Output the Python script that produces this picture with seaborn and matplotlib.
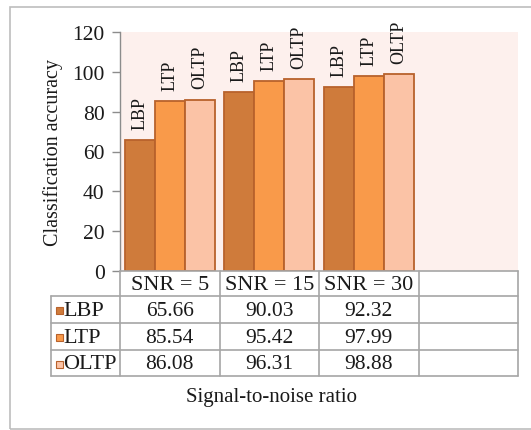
import matplotlib
matplotlib.use("Agg")
import matplotlib.pyplot as plt
from matplotlib.lines import Line2D
from matplotlib.patches import Rectangle
import matplotlib.transforms as mtransforms
import pandas as pd
import seaborn as sns

# ---- data ----
categories = ["SNR = 5", "SNR = 15", "SNR = 30"]
methods = ["LBP", "LTP", "OLTP"]
lbp = [65.66, 90.03, 92.32]
ltp = [85.54, 95.42, 97.99]
oltp = [86.08, 96.31, 98.88]
value_labels = [["65.66", "90.03", "92.32"],
                ["85.54", "95.42", "97.99"],
                ["86.08", "96.31", "98.88"]]
yticks = [0, 20, 40, 60, 80, 100, 120]

colors = {"LBP": "#cf7b3b", "LTP": "#f99a4a", "OLTP": "#fbc3a6"}
edge = "#b8622c"
grid_gray = "#a6a6a6"

df = pd.DataFrame({
    "snr": categories * 3,
    "method": [m for m in methods for _ in categories],
    "acc": lbp + ltp + oltp,
})

sns.set_theme(style="white")
plt.rcParams["font.family"] = ["Liberation Serif", "DejaVu Serif"]

W, H = 531, 431
fig = plt.figure(figsize=(W / 100, H / 100), dpi=100)
fig.patch.set_facecolor("white")

def fx(px):
    return px / W

def fy(py):
    return 1 - py / H

# outer chart frame (right side runs past the canvas)
fig.add_artist(Rectangle((fx(10), fy(430)), fx(580) - fx(10), fy(8) - fy(430),
                         transform=fig.transFigure, fill=False,
                         edgecolor="#bdbdbd", linewidth=1.2))

ax = fig.add_axes([fx(120), fy(272), fx(518) - fx(120), fy(33) - fy(272)])
ax.set_facecolor("#fdf0ed")

order = categories + [" "]
sns.barplot(data=df, x="snr", y="acc", hue="method", order=order,
            hue_order=methods, palette=colors, saturation=1, edgecolor=edge,
            linewidth=1.3, width=0.9, ax=ax, legend=False, errorbar=None)

for cont, name in zip(ax.containers, methods):
    ax.bar_label(cont, labels=[name] * len(cont), rotation=90, padding=8,
                 fontsize=13, color="#1a1a1a")

ax.set_xlim(-0.5, 3.5)
ax.set_ylim(0, 120)
ax.set_yticks(yticks)
ax.set_yticklabels([str(t) for t in yticks], fontsize=15.5, color="#1a1a1a")
ax.tick_params(axis="y", direction="out", length=6, width=1, color="#8c8c8c",
               pad=5, left=True)
ax.tick_params(axis="x", bottom=False, labelbottom=False)
ax.set_xlabel("")
ax.set_ylabel("Classification accuracy", fontsize=14.5, color="#1a1a1a",
              labelpad=7)
for s in ["top", "right", "bottom"]:
    ax.spines[s].set_visible(False)
ax.spines["left"].set_color("#8c8c8c")
ax.spines["left"].set_linewidth(1)

# ---- data table below the axis ----
blend = mtransforms.blended_transform_factory(ax.transData, fig.transFigure)
row_edges = [272, 297, 324, 351, 377]
col_edges = [-0.5, 0.5, 1.5, 2.5, 3.5]
label_left = fx(51)

def hline(y, x0_fig, x1_data):
    x0 = ax.transData.inverted().transform(
        fig.transFigure.transform((x0_fig, 0)))[0]
    fig.add_artist(Line2D([x0, x1_data], [fy(y), fy(y)], transform=blend,
                          color=grid_gray, linewidth=1.2))

# header row spans only the category columns
fig.add_artist(Line2D([-0.5, 3.5], [fy(row_edges[0])] * 2, transform=blend,
                      color=grid_gray, linewidth=1.2))
for y in row_edges[1:]:
    hline(y, label_left, 3.5)
for x in col_edges:
    fig.add_artist(Line2D([x, x], [fy(row_edges[0]), fy(row_edges[-1])],
                          transform=blend, color=grid_gray, linewidth=1.2))
fig.add_artist(Line2D([label_left, label_left],
                      [fy(row_edges[1]), fy(row_edges[-1])],
                      transform=fig.transFigure, color=grid_gray, linewidth=1.2))

for i, cat in enumerate(categories):
    fig.text(i, fy((row_edges[0] + row_edges[1]) / 2 + 1), cat, transform=blend,
             ha="center", va="center", fontsize=16, color="#1a1a1a")

for r, name in enumerate(methods):
    yc = fy((row_edges[r + 1] + row_edges[r + 2]) / 2 + 1)
    fig.add_artist(Rectangle((fx(56), yc - 3.5 / H), 7 / W, 7 / H,
                             transform=fig.transFigure, facecolor=colors[name],
                             edgecolor=edge, linewidth=0.8))
    fig.text(fx(63.5), yc, name, ha="left", va="center", fontsize=16,
             color="#1a1a1a")
    for i, txt in enumerate(value_labels[r]):
        fig.text(i, yc, txt, transform=blend, ha="center", va="center",
                 fontsize=15.5, color="#1a1a1a")

fig.text(fx(272), fy(398), "Signal-to-noise ratio", ha="center", va="center",
         fontsize=15, color="#1a1a1a")

fig.savefig("out.png", dpi=100)
